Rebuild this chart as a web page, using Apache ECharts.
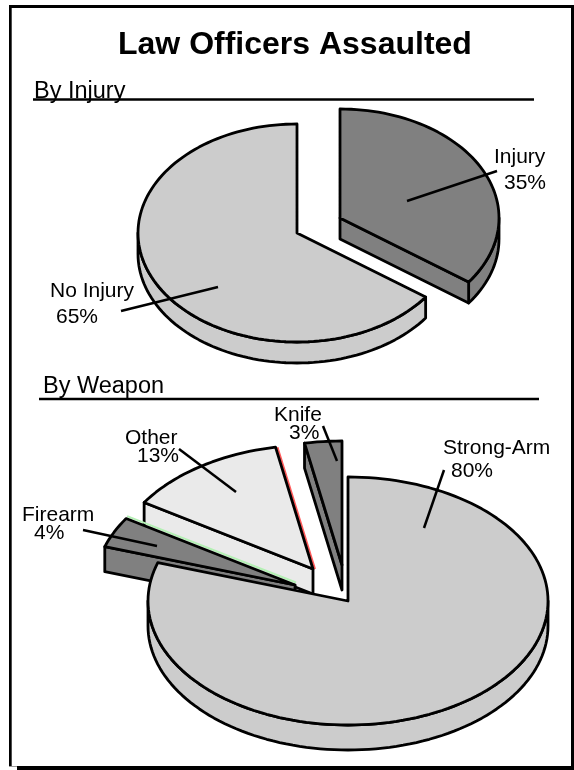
<!DOCTYPE html>
<html>
<head>
<meta charset="utf-8">
<script src="https://cdn.jsdelivr.net/npm/echarts@6/dist/echarts.min.js"></script>
<style>
  html, body { margin: 0; padding: 0; background: #fff; }
  #chart { width: 574px; height: 770px; }
</style>
</head>
<body>
<div id="chart"></div>
<script>
const chartTitle = 'Law Officers Assaulted'
const injuryTitle = 'By Injury'
const weaponTitle = 'By Weapon'

const injuryNames = ['Injury', 'No Injury']
const injuryValues = [35, 65]

const weaponNames = ['Strong-Arm', 'Firearm', 'Other', 'Knife']
const weaponValues = [80, 4, 13, 3]

const FONT = '"Liberation Sans", Arial, sans-serif'
const INK = '#000'
const DARK = '#808080'
const MID = '#cccccc'
const LIGHT = '#eaeaea'

// where each tilted pie sits, slices are pulled out by shift
const injuryPie = {
  cx: 297, cy: 233, rx: 159, ry: 109, depth: 21,
  shift: [[43, -15], [0, 0]],
  fill: [DARK, MID],
  order: [20, 10],
  nameX: [494, 50],
  valueX: [504, 56],
  labelY: [[157, 183], [291, 317]],
  leader: [[407, 201, 497, 171], [218, 287, 121, 311]],
  tint: {}
}
const weaponPie = {
  cx: 348, cy: 601, rx: 200, ry: 124, depth: 25,
  shift: [[0, 0], [-53, -16], [-35, -32], [-6, -36]],
  fill: [MID, DARK, LIGHT, DARK],
  order: [40, 30, 10, 20],
  nameX: [443, 22, 125, 274],
  valueX: [451, 34, 137, 289],
  labelY: [[448, 471], [515, 533], [438, 456], [415, 433]],
  leader: [[424, 528, 444, 470], [157, 546, 83, 530], [236, 492, 179, 449], [337, 461, 323, 426]],
  // thin coloured fringe along the slice's closing edge
  tint: { 1: ['#b4f0b4', 1, -2.5], 2: ['#ff5a5a', 2, 0] }
}

function arc (p, cx, cy, from, to, dy) {
  const pts = []
  const steps = Math.max(2, Math.ceil(Math.abs(to - from) / 2))
  for (let i = 0; i <= steps; i++) {
    const a = ((from + (to - from) * i / steps) * Math.PI) / 180
    pts.push([cx + p.rx * Math.sin(a), cy - p.ry * Math.cos(a) + dy])
  }
  return pts
}

function pieRenderer (p, names, values) {
  const total = values.reduce((a, b) => a + b, 0)
  const starts = []
  values.reduce((sum, v, i) => { starts[i] = sum; return sum + v }, 0)
  const stroke = { stroke: INK, lineWidth: 2.8, lineJoin: 'round' }

  return function (params, api) {
    const i = params.dataIndex
    const from = starts[i] / total * 360
    const to = from + api.value(0) / total * 360
    const cx = p.cx + p.shift[i][0]
    const cy = p.cy + p.shift[i][1]
    const z = p.order[i]
    const fill = p.fill[i]
    const kids = []

    // outer rim, only the front half of the ellipse shows
    const rimFrom = Math.max(from, 90)
    const rimTo = Math.min(to, 270)
    if (rimTo > rimFrom) {
      const rim = arc(p, cx, cy, rimFrom, rimTo, 0).concat(arc(p, cx, cy, rimTo, rimFrom, p.depth))
      kids.push({ type: 'polygon', z2: z, shape: { points: rim }, style: { fill, ...stroke } })
    }
    // cut faces that turn towards the viewer
    const cuts = []
    if (from > 180 && from < 360) cuts.push(from)
    if (to > 0 && to < 180) cuts.push(to)
    cuts.forEach(function (a) {
      const end = arc(p, cx, cy, a, a, 0)[0]
      kids.push({
        type: 'polygon',
        z2: z + 1,
        shape: { points: [[cx, cy], end, [end[0], end[1] + p.depth], [cx, cy + p.depth]] },
        style: { fill, ...stroke }
      })
    })
    // top face
    const top = [[cx, cy]].concat(arc(p, cx, cy, from, to, 0))
    const tint = p.tint[i]
    if (tint) {
      const end = arc(p, cx, cy, to, to, 0)[0]
      kids.push({
        type: 'line',
        z2: z + 2,
        shape: { x1: end[0] + tint[1], y1: end[1] + tint[2], x2: cx + tint[1], y2: cy + tint[2] },
        style: { stroke: tint[0], lineWidth: 2 }
      })
    }
    kids.push({ type: 'polygon', z2: z + 3, shape: { points: top }, style: { fill, ...stroke } })

    // labels and leader lines
    const l = p.leader[i]
    kids.push({
      type: 'line',
      z2: 100,
      shape: { x1: l[0], y1: l[1], x2: l[2], y2: l[3] },
      style: { stroke: INK, lineWidth: 2.5 }
    })
    const text = (str, x, y) => ({
      type: 'text',
      z2: 101,
      style: { text: str, x, y, fill: INK, font: '21px ' + FONT, textAlign: 'left', textVerticalAlign: 'middle' }
    })
    kids.push(text(names[i], p.nameX[i], p.labelY[i][0]))
    kids.push(text(api.value(0) + '%', p.valueX[i], p.labelY[i][1]))
    return { type: 'group', children: kids }
  }
}

const myChart = echarts.init(document.getElementById('chart'))
myChart.setOption({
  animation: false,
  backgroundColor: '#fff',
  title: [
    { text: chartTitle, left: 113, top: 24, textStyle: { fontFamily: FONT, fontSize: 32, fontWeight: 'bold', color: INK } },
    { text: injuryTitle, left: 29, top: 75, textStyle: { fontFamily: FONT, fontSize: 23.5, fontWeight: 'normal', color: INK } },
    { text: weaponTitle, left: 38, top: 370, textStyle: { fontFamily: FONT, fontSize: 23.5, fontWeight: 'normal', color: INK } }
  ],
  graphic: [
    // frame runs to the edge of the page on the right and bottom
    { type: 'rect', z: -1, shape: { x: 9, y: 5, width: 2.7, height: 761 }, style: { fill: INK } },
    { type: 'rect', z: -1, shape: { x: 9, y: 5, width: 565, height: 3 }, style: { fill: INK } },
    { type: 'rect', z: -1, shape: { x: 571, y: 5, width: 3, height: 765 }, style: { fill: INK } },
    { type: 'rect', z: -1, shape: { x: 17, y: 766, width: 557, height: 4 }, style: { fill: INK } },
    { type: 'rect', z: -1, shape: { x: 9, y: 766, width: 8, height: 1 }, style: { fill: '#999' } },
    { type: 'line', shape: { x1: 33, y1: 99.5, x2: 534, y2: 99.5 }, style: { stroke: INK, lineWidth: 2.5 } },
    { type: 'line', shape: { x1: 39, y1: 399, x2: 539, y2: 399 }, style: { stroke: INK, lineWidth: 2.5 } }
  ],
  series: [
    { type: 'custom', coordinateSystem: 'none', silent: true, data: injuryValues, renderItem: pieRenderer(injuryPie, injuryNames, injuryValues) },
    { type: 'custom', coordinateSystem: 'none', silent: true, data: weaponValues, renderItem: pieRenderer(weaponPie, weaponNames, weaponValues) }
  ]
})
</script>
</body>
</html>
